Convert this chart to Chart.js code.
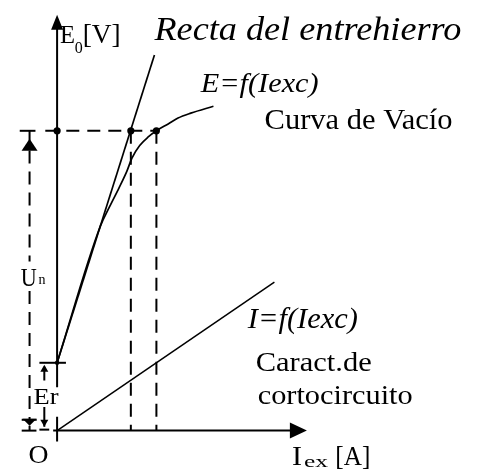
<!DOCTYPE html>
<html><head><meta charset="utf-8">
<script src="https://cdn.jsdelivr.net/npm/chart.js@4/dist/chart.umd.min.js"></script>
<style>html,body{margin:0;padding:0;background:#fff;overflow:hidden}canvas{display:block}</style>
</head><body>
<canvas id="c" width="478" height="470"></canvas>
<script>
// ---- Data (schematic units: excitation current on x, voltage on y) ----
const airGapI = [0, 99];
const airGapE = [69, 382];
const noLoadI = [0, 44, 53, 63, 71, 76, 84, 93, 101, 113, 123, 136, 159];
const noLoadE = [69, 208, 227, 247, 264, 277, 290, 299, 305, 312, 318, 323, 330];
const shortCircuitI = [0, 221];
const shortCircuitA = [0, 151];
const ratedVoltage = 305;     // Un
const residualVoltage = 69;   // Er
const excAirGap = 75;         // excitation on air-gap line at Un
const excNoLoad = 101;        // excitation on no-load curve at Un
const axisTopE = 423;
const axisEndI = 248;
const annotationTexts = ["Recta del entrehierro", "E=f(Iexc)", "Curva de Vacío", "I=f(Iexc)", "Caract.de", "cortocircuito", "O", "Er"];
const yAxisTitle = ["E", "0", "[V]"];
const xAxisTitle = ["I", "ex", "[A]"];
const unLabel = ["U", "n"];

const pts = (xs, ys) => xs.map((x, i) => ({x, y: ys[i]}));
const K = '#000';
const dash = [13, 8];

function line(data, opts) {
  return Object.assign({data, showLine: true, borderColor: K, borderWidth: 2, pointRadius: 0, fill: false, tension: 0}, opts || {});
}

const datasets = [
  // axes
  line([{x: 0, y: 44}, {x: 0, y: axisTopE - 4}]),
  line([{x: 0, y: 14}, {x: 0, y: -11}]),
  line([{x: -4, y: 0}, {x: axisEndI - 4, y: 0}]),
  // curves
  line(pts(airGapI, airGapE), {borderWidth: 1.7}),
  line(pts(noLoadI, noLoadE), {borderWidth: 1.7, cubicInterpolationMode: 'monotone'}),
  line(pts(shortCircuitI, shortCircuitA), {borderWidth: 1.5}),
  // construction lines
  line([{x: -12, y: ratedVoltage}, {x: excNoLoad, y: ratedVoltage}], {borderDash: dash}),
  line([{x: excAirGap, y: ratedVoltage}, {x: excAirGap, y: 0}], {borderDash: dash}),
  line([{x: excNoLoad, y: ratedVoltage}, {x: excNoLoad, y: 0}], {borderDash: dash}),
  // Un dimension
  line([{x: -38, y: ratedVoltage}, {x: -22, y: ratedVoltage}]),
  line([{x: -28, y: ratedVoltage}, {x: -28, y: ratedVoltage - 10}]),
  line([{x: -28, y: ratedVoltage - 20}, {x: -28, y: 172}], {borderDash: dash}),
  line([{x: -28, y: 142}, {x: -28, y: 11}], {borderDash: dash}),
  line([{x: -36, y: 0}, {x: -21, y: 0}]),
  line([{x: -28, y: 5}, {x: -28, y: 0}]),
  // Er dimension
  line([{x: -18, y: residualVoltage}, {x: 9, y: residualVoltage}]),
  line([{x: -13, y: residualVoltage - 4}, {x: -13, y: 51}]),
  line([{x: -13, y: 24}, {x: -13, y: 4}]),
  line([{x: -18, y: 1}, {x: -8, y: 1}]),
  // markers
  {data: [{x: 0, y: ratedVoltage}, {x: excAirGap, y: ratedVoltage}, {x: excNoLoad, y: ratedVoltage}],
   showLine: false, pointRadius: 3.6, pointBackgroundColor: K, pointBorderWidth: 0},
  {data: [{x: 0, y: residualVoltage}], showLine: false, pointRadius: 2.2, pointBackgroundColor: K, pointBorderWidth: 0}
];

const FONT = '"Liberation Serif", "Times New Roman", serif';

const annot = {
  id: 'annot',
  afterDatasetsDraw(chart) {
    const ctx = chart.ctx, xs = chart.scales.x, ys = chart.scales.y;
    const X = v => xs.getPixelForValue(v), Y = v => ys.getPixelForValue(v);
    ctx.save();
    ctx.fillStyle = K;
    function arrow(x, y, dir, len, hw) {
      const tx = X(x), ty = Y(y);
      ctx.beginPath();
      if (dir === 'up') { ctx.moveTo(tx, ty); ctx.lineTo(tx - hw, ty + len); ctx.lineTo(tx + hw, ty + len); }
      else if (dir === 'down') { ctx.moveTo(tx, ty); ctx.lineTo(tx - hw, ty - len); ctx.lineTo(tx + hw, ty - len); }
      else { ctx.moveTo(tx, ty); ctx.lineTo(tx - len, ty - hw); ctx.lineTo(tx - len, ty + hw); }
      ctx.closePath(); ctx.fill();
    }
    arrow(0, axisTopE, 'up', 15, 6);
    arrow(axisEndI + 6, 0, 'right', 17, 8);
    arrow(-28, ratedVoltage - 8, 'up', 12, 8);
    arrow(-28, 5, 'down', 7, 7);
    ctx.fillRect(X(-36), Y(11) - 1, 15, 2);
    arrow(-13, residualVoltage - 2, 'up', 7, 4);
    arrow(-13, 4, 'down', 7, 4);

    function txt(s, x, y, size, italic, width) {
      ctx.save();
      ctx.font = (italic ? 'italic ' : '') + size + 'px ' + FONT;
      ctx.textBaseline = 'alphabetic';
      ctx.textAlign = 'left';
      const px = X(x), py = Y(y);
      if (width) {
        const w = ctx.measureText(s).width;
        ctx.translate(px, py); ctx.scale(width / w, 1); ctx.fillText(s, 0, 0);
      } else ctx.fillText(s, px, py);
      ctx.restore();
    }
    txt(annotationTexts[0], 99, 397, 33, true, 307);
    txt(annotationTexts[1], 146, 344, 27, true, 118);
    txt(annotationTexts[2], 211, 307, 29, false, 188);
    txt(annotationTexts[3], 194, 104, 30, true, 110);
    txt(annotationTexts[4], 202, 61, 28, false, 116);
    txt(annotationTexts[5], 204, 27, 28, false, 155);
    txt(annotationTexts[6], -29, -33, 26, false, 20);
    txt(annotationTexts[7], -24, 27, 23, false, 25);
    txt(yAxisTitle[0], 3, 394, 26, false, 15);
    txt(yAxisTitle[1], 18, 384, 17, false, 8);
    txt(yAxisTitle[2], 26, 394, 27, false, 38);
    txt(xAxisTitle[0], 239, -35, 28, false, 10);
    txt(xAxisTitle[1], 251, -37, 17, false, 24);
    txt(xAxisTitle[2], 283, -35, 28, false, 35);
    txt(unLabel[0], -37, 147, 26, false, 16);
    txt(unLabel[1], -19, 149, 14, false, 7);
    ctx.restore();
  }
};

new Chart(document.getElementById('c'), {
  type: 'scatter',
  data: {datasets},
  options: {
    responsive: false,
    animation: false,
    devicePixelRatio: 1,
    layout: {padding: 0},
    plugins: {legend: {display: false}, tooltip: {enabled: false}, title: {display: false}},
    scales: {
      x: {type: 'linear', display: false, min: -54, max: 424},
      y: {type: 'linear', display: false, min: -36, max: 434}
    },
    elements: {line: {borderCapStyle: 'butt'}}
  },
  plugins: [annot]
});
</script>
</body></html>
